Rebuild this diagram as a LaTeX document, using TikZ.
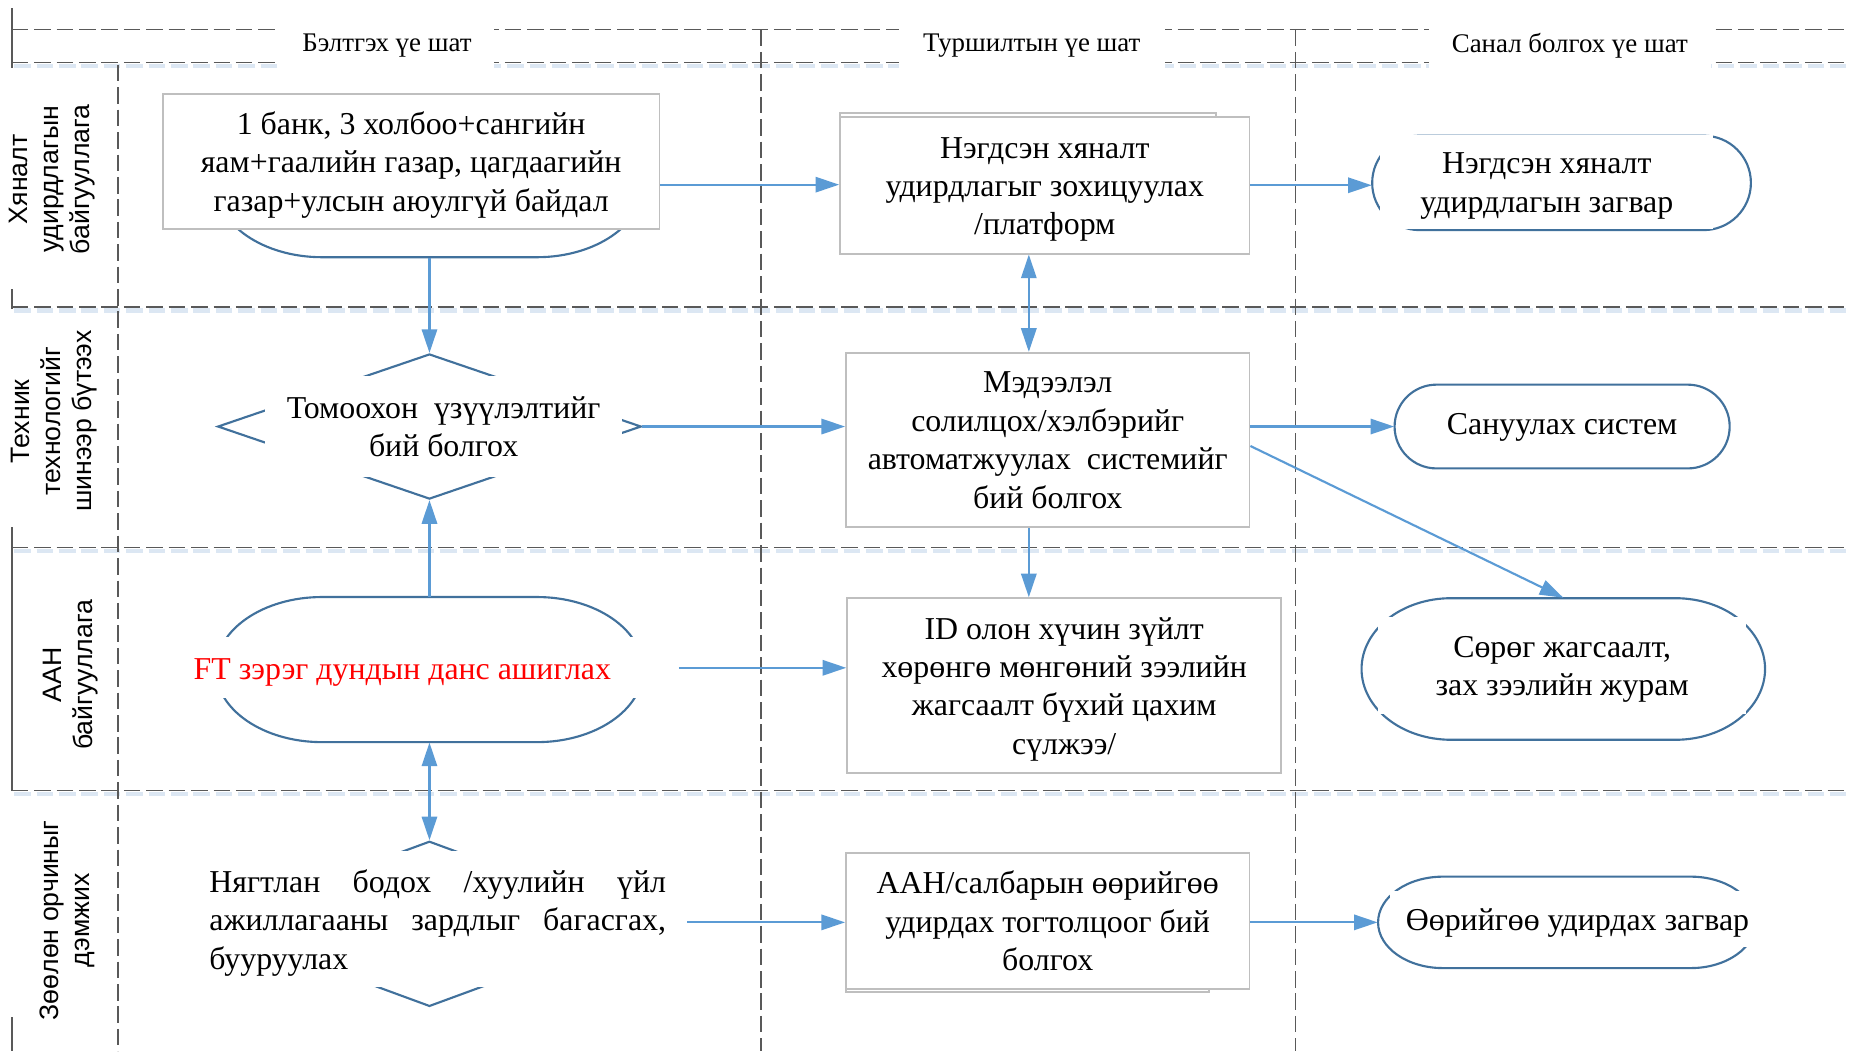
\documentclass[tikz,border=0pt]{standalone}
\usepackage{fontspec}
\setmainfont{Liberation Serif}
\newfontfamily\lblfont{Liberation Sans}
\usetikzlibrary{arrows.meta,shapes.geometric,fit,calc}
\definecolor{lanegray}{HTML}{595959}
\definecolor{connblue}{HTML}{5B9BD5}
\definecolor{shapeblue}{HTML}{41719C}
\definecolor{boxgray}{HTML}{BFBFBF}
\definecolor{glowblue}{HTML}{DCE7F3}
\newcommand\lowered[1]{\raisebox{-1.5pt}[\height][\depth]{\begin{tabular}{@{}c@{}}#1\end{tabular}}}
\newcommand\termshape[7]{%
  \node[frame,fit={(#2,#3) (#4,#5)}] (#1) {};
  \draw[term] (#2+#6,#3) -- (#4-#6,#3)
    arc[start angle=90,end angle=0,x radius=#6*0.5pt,y radius=#7*0.5pt]
    -- (#4,#5-#7)
    arc[start angle=0,end angle=-90,x radius=#6*0.5pt,y radius=#7*0.5pt]
    -- (#2+#6,#5)
    arc[start angle=270,end angle=180,x radius=#6*0.5pt,y radius=#7*0.5pt]
    -- (#2,#3+#7)
    arc[start angle=180,end angle=90,x radius=#6*0.5pt,y radius=#7*0.5pt]
    -- cycle;}
\begin{document}
\begin{tikzpicture}[x=0.5pt,y=-0.5pt,
  lane/.style={draw=lanegray, line width=0.7pt, dash pattern=on 7pt off 2.5pt},
  glow/.style={draw=glowblue, line width=2pt, dash pattern=on 7pt off 2.5pt},
  edgeline/.style={draw=lanegray, line width=0.8pt},
  hdr/.style={fill=white, inner sep=0pt, font=\fontsize{11.4}{13}\selectfont},
  lbl/.style={rotate=90, align=center, font=\lblfont\fontsize{11.3}{13.2}\selectfont, inner sep=0pt},
  box/.style={draw=boxgray, fill=white, line width=0.8pt, inner sep=0pt, align=center, font=\fontsize{13.5}{16.3}\selectfont},
  backbox/.style={draw=boxgray, fill=white, line width=0.8pt},
  cover/.style={fill=white, inner sep=0pt, align=center, font=\fontsize{13.5}{16.3}\selectfont},
  redtxt/.style={text=red, inner sep=0pt, font=\fontsize{13.5}{16.3}\selectfont},
  frame/.style={inner sep=0pt},
  term/.style={draw=shapeblue, line width=0.9pt, fill=white},
  dec/.style={diamond, draw=shapeblue, line width=0.9pt, fill=white, inner sep=0pt},
  conn/.style={draw=connblue, line width=0.9pt, -{Triangle[length=10pt,width=6.5pt]}},
  conntwo/.style={draw=connblue, line width=0.9pt, {Triangle[length=10pt,width=6.5pt]}-{Triangle[length=10pt,width=6.5pt]}},
]
\path[use as bounding box] (0,0) rectangle (1568,891);
\fill[white] (0,0) rectangle (1568,891);

% lanes
\foreach \yy in {56,263,467,673} {\draw[glow] (12,\yy) -- (1568,\yy);}
\draw[lane] (10,25) -- (1568,25);
\draw[lane] (10,53) -- (1568,53);
\draw[lane] (10,260) -- (1568,260);
\draw[lane] (10,464) -- (1568,464);
\draw[lane] (10,670) -- (1568,670);
\draw[lane] (100,55) -- (100,891);
\draw[lane] (645,25) -- (645,891);
\draw[lane] (1098,25) -- (1098,891);
\draw[edgeline] (10,7) -- (10,58);
\draw[edgeline] (10,245) -- (10,262);
\draw[edgeline] (10,447) -- (10,670);
\draw[edgeline] (10,862) -- (10,891);

% headers
\node[hdr, minimum width=91pt, minimum height=20.5pt] (H1) at (328,38.5) {Бэлтгэх үе шат};
\node[hdr, minimum width=112.5pt, minimum height=20.5pt] (H2) at (874.5,38.5) {Туршилтын үе шат};
\node[hdr, minimum width=119.5pt, minimum height=20.5pt] (H3) at (1330.5,38.5) {Санал болгох үе шат};

% row labels
\node[lbl] (L1) at (44,152) {Хяналт\\удирдлагын\\байгууллага};
\node[lbl] (L2) at (46,357) {Техник\\технологийг\\шинээр бүтээх};
\node[lbl] (L3) at (60,572) {ААН\\байгууллага};
\node[lbl] (L4) at (57,780) {Зөөлөн орчиныг\\дэмжих};

% shapes behind
\termshape{A1s}{183}{95}{545}{218}{90}{61.5}
\termshape{A3s}{183}{506}{545}{629}{90}{61.5}
\termshape{C1s}{1163}{115}{1484}{195}{40}{40}
\termshape{C2s}{1182}{326}{1466}{397}{35.5}{35.5}
\termshape{C3s}{1154}{507}{1496}{627}{76}{60}
\termshape{C4s}{1168}{743}{1488}{820.5}{55}{38.75}
\node[dec, minimum width=179.5pt, minimum height=61.5pt] (A2d) at (364,361.5) {};
\node[dec, minimum width=190pt, minimum height=70pt] (A4d) at (364,783) {};

% text blocks
\node[box, minimum width=210.5pt, minimum height=57pt] (A1) at (348.5,137) {\lowered{1 банк, 3 холбоо+сангийн\\яам+гаалийн газар, цагдаагийн\\газар+улсын аюулгүй байдал}};
\node[cover, minimum width=151pt, minimum height=42.5pt] (A2) at (376,361.5) {\lowered{Томоохон\ \ үзүүлэлтийг\\бий болгох}};
\node[cover, minimum width=210pt, minimum height=26pt] (A3) at (365,566) {};
\node[redtxt] (A3t) at (341,566) {\lowered{FT зэрэг дундын данс ашиглах}};
\node[cover, minimum width=211pt, minimum height=57.5pt] (A4) at (371,779) {\raisebox{-1.5pt}[\height][\depth]{\parbox{193.5pt}{Нягтлан\hfill бодох\hfill /хуулийн\hfill үйл\\ажиллагааны\hfill зардлыг\hfill багасгах,\\бууруулах}}};

\draw[backbox] (712,96) rectangle (1031,213);
\node[box, minimum width=173.5pt, minimum height=58pt] (B1) at (885.5,157) {\lowered{Нэгдсэн хяналт\\удирдлагыг зохицуулах\\/платформ}};
\node[box, minimum width=171pt, minimum height=74pt] (B2) at (888,373) {Мэдээлэл\\солилцох/хэлбэрийг\\автоматжуулах\ \ системийг\\бий болгох};
\node[box, minimum width=184pt, minimum height=74pt] (B3) at (902,581) {\lowered{ID олон хүчин зүйлт\\хөрөнгө мөнгөний зээлийн\\жагсаалт бүхий цахим\\сүлжээ/}};
\draw[backbox] (717,726) rectangle (1025,841);
\node[box, minimum width=171pt, minimum height=57.5pt] (B4) at (888,780.5) {\lowered{ААН/салбарын өөрийгөө\\удирдах тогтолцоог бий\\болгох}};

\node[cover, minimum width=141pt, minimum height=40pt] (C1) at (1311,154) {\lowered{Нэгдсэн хяналт\\удирдлагын загвар}};
\node[cover] (C2) at (1324,362) {Сануулах систем};
\node[cover, minimum width=156pt, minimum height=41pt] (C3) at (1324,564) {\lowered{Сөрөг жагсаалт,\\зах зээлийн журам}};
\node[cover, minimum width=159pt, minimum height=24pt] (C4) at (1337,779) {\lowered{Өөрийгөө удирдах загвар}};

% connectors
\coordinate (colB) at (872,0);
\draw[conn] (A1s.south) -- (A2d.north);
\draw[conn] (A1s.center -| A1.east) -- (A1s.center -| B1.west);
\draw[conn] (B1.east) -- (B1.east -| C1s.west);
\draw[conntwo] (B1.south -| colB) -- (B2.north -| colB);
\draw[conn] (A2d.east) -- (A2d.east -| B2.west);
\draw[conn] (C2s.west -| B2.east) -- (C2s.west);
\draw[conn] ([yshift=-2.5pt]B2.east) -- (C3s.north);
\draw[conn] (B2.south -| colB) -- (B3.north -| colB);
\draw[conn] (A3s.north) -- (A2d.south);
\draw[conntwo] (A3s.south) -- (A4d.north);
\draw[conn] (A3.east) -- (A3.east -| B3.west);
\draw[conn] (C4s.west -| A4.east) -- (C4s.west -| B4.west);
\draw[conn] (C4s.west -| B4.east) -- (C4s.west);
\end{tikzpicture}
\end{document}
